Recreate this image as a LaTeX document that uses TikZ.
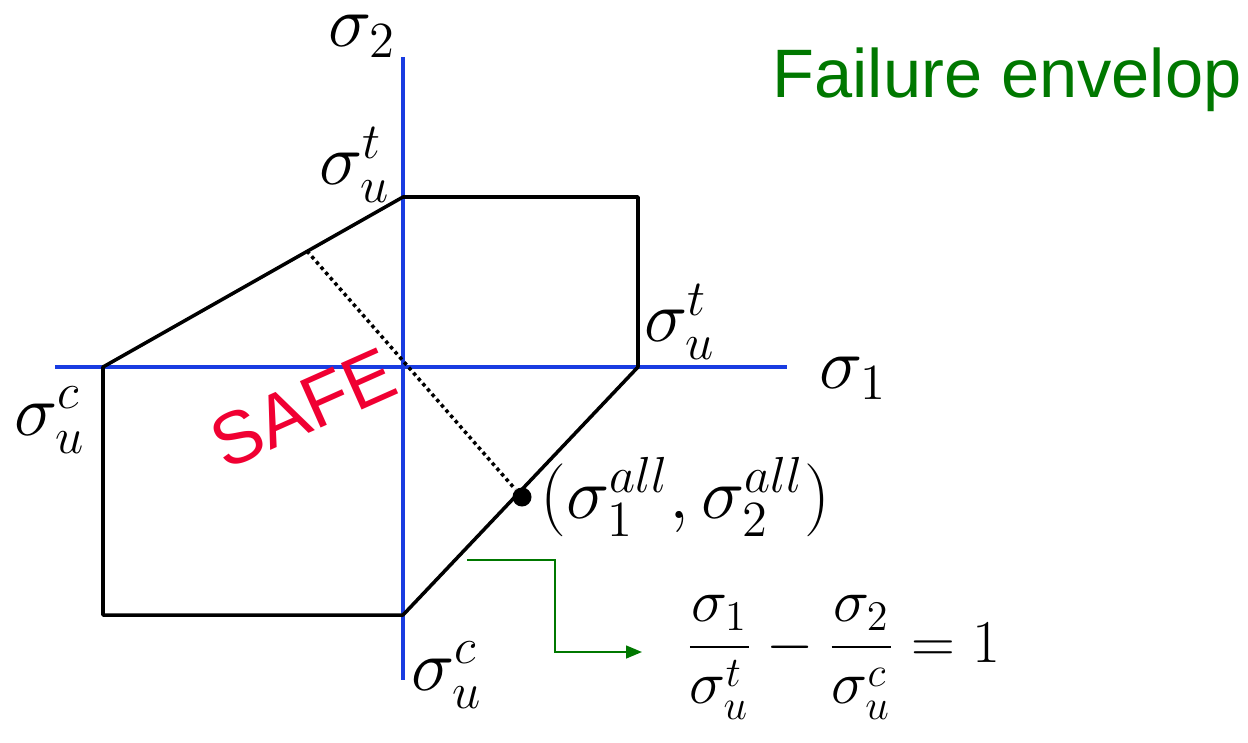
\documentclass[tikz,border=0pt]{standalone}
\usepackage{fontspec}
\newfontfamily\arialfont{Liberation Sans}
\usetikzlibrary{arrows.meta,positioning}
\definecolor{axisblue}{RGB}{25,60,225}
\definecolor{envgreen}{RGB}{0,120,0}
\definecolor{safered}{RGB}{240,0,50}

\begin{document}
\begin{tikzpicture}[x=0.01cm, y=-0.01cm,
  axis/.style={draw=axisblue, line width=1pt},
  env/.style={draw, line width=1pt, line join=round},
  lbl/.style={font=\fontsize{21}{24}\selectfont, inner sep=0pt},
  eqn/.style={font=\fontsize{18}{22}\selectfont, inner sep=0pt},
  title/.style={font=\arialfont\fontsize{19.5}{23}\selectfont, text=envgreen, inner sep=0pt},
  safe/.style={font=\arialfont\fontsize{21}{24}\selectfont, text=safered, inner sep=0pt},
  greenarr/.style={-{Triangle[length=4.5pt, width=3.6pt]}, draw=envgreen, line width=0.6pt},
  dotline/.style={densely dotted, line width=1pt}
]
\useasboundingbox (0,0) rectangle (1248,742);

% axes
\coordinate (ytop) at (403,57);
\coordinate (ybot) at (403,680);
\coordinate (xl) at (55,367);
\coordinate (xr) at (787,367);
\draw[axis] (ytop) -- (ybot);
\draw[axis] (xl) -- (xr);

% failure envelope corners
\coordinate (tl) at (403,197);
\coordinate (tr) at (638,197);
\coordinate (r) at (638,367);
\coordinate (b) at (403,615);
\coordinate (bl) at (103,615);
\coordinate (l) at (103,367);
\draw[env] (tl) -- (tr) -- (r) -- (b) -- (bl) -- (l) -- cycle;

% allowable point
\node[circle, fill, inner sep=0pt, minimum size=0.19cm] (pt) at (522,497) {};
\coordinate (foot) at (307,251);
\draw[dotline] (foot) -- (pt);

% labels
\node[lbl] (s2) at (362,36) {$\sigma_2$};
\node[lbl] (s1) at (853,378) {$\sigma_1$};
\node[lbl] (sut) at (355,165) {$\sigma_u^t$};
\node[lbl] (sutr) at (680,322) {$\sigma_u^t$};
\node[lbl] (suc) at (50,420) {$\sigma_u^c$};
\node[lbl] (sucb) at (447,675) {$\sigma_u^c$};
\node[lbl, right=0.08cm of pt] (ptlbl) {$\biggl(\sigma_1^{all},\sigma_2^{all}\biggr)$};

\node[safe, rotate=24] (safelbl) at (303,408) {SAFE};
\node[title, anchor=base] (fe) at (1007,97) {Failure envelop};

% line equation with pointer
\node[eqn] (eq) at (843,657) {$\displaystyle\frac{\sigma_1}{\sigma_u^t}-\frac{\sigma_2}{\sigma_u^c}=1$};
\coordinate (gs) at (467,560);
\coordinate (gk) at (555,560);
\coordinate (ge) at (642,652);
\draw[greenarr] (gs) -- (gk) |- (ge);

\end{tikzpicture}
\end{document}
